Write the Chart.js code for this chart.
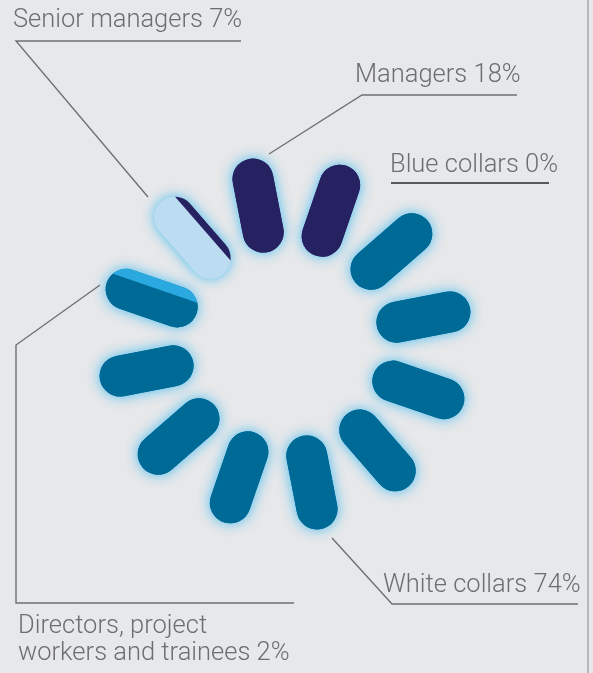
<!DOCTYPE html>
<html>
<head>
<meta charset="utf-8">
<script src="https://cdn.jsdelivr.net/npm/chart.js@4/dist/chart.umd.min.js"></script>
<style>
  html, body { margin: 0; padding: 0; background: #e7e8ea; }
  #wrap { position: relative; width: 593px; height: 673px; overflow: hidden; }
  #chart, #notes { position: absolute; left: 0; top: 0; }
  #notes text { font-family: Roboto, "Open Sans", sans-serif; font-weight: 300; font-size: 25.5px; fill: #6d6e71; }
</style>
</head>
<body>
<div id="wrap">
  <canvas id="chart" width="593" height="673"></canvas>
  <svg id="notes" width="593" height="673">
    <g fill="none" stroke="#6f7073" stroke-width="1.4">
      <line x1="588" y1="0" x2="588" y2="673" stroke="#a4a5a8"/>
      <polyline points="148,197 16,41 241,41"/>
      <polyline points="269,154 362,95 517,95"/>
      <line x1="391" y1="183" x2="549" y2="183" stroke="#58595b" stroke-width="2"/>
      <polyline points="332,538 392,604 578,604"/>
      <polyline points="100,285 16,345 16,603 294,603"/>
    </g>
    <text x="13" y="27">Senior managers 7%</text>
    <text x="355" y="82">Managers 18%</text>
    <text x="390" y="172">Blue collars 0%</text>
    <text x="383" y="592">White collars 74%</text>
    <text x="18" y="633">Directors, project</text>
    <text x="18" y="660">workers and trainees 2%</text>
  </svg>
</div>
<script>
// staff structure, % of headcount
const categories = ['Managers', 'Senior managers', 'Directors, project workers and trainees', 'White collars', 'Blue collars'];
const shares = [18, 7, 2, 74, 0];
const colours = ['#262262', '#bcdcf1', '#29a9e0', '#006a96', '#8d8e91'];

// ring of 12 pills, filled anticlockwise starting at the pill right of 12 o'clock
const SLOTS = 12;
const START_DEG = 19;
const R_IN = 114, R_OUT = 168, PILL_W = 41;

function slotAxis(k) {
  const a = (START_DEG - k * 360 / SLOTS) * Math.PI / 180;
  // r = outward direction, t = clockwise direction (y axis points up)
  return { r: [Math.sin(a), Math.cos(a)], t: [Math.cos(a), -Math.sin(a)] };
}

// split the cumulative shares into stripes across the pills
const stripes = [];
let pos = 0;
shares.forEach((s, i) => {
  const a = pos, b = Math.min(pos + s / 100 * SLOTS, SLOTS);
  for (let k = Math.floor(a); k < b; k++) {
    const f0 = Math.max(a, k) - k, f1 = Math.min(b, k + 1) - k;
    if (f1 > f0) stripes.push({ slot: k, cat: i, f0: f0, f1: f1 });
  }
  pos = b;
});

const pills = [];
for (let k = 0; k < SLOTS; k++) {
  const r = slotAxis(k).r;
  const main = stripes.filter(s => s.slot === k).sort((p, q) => (q.f1 - q.f0) - (p.f1 - p.f0))[0];
  pills.push({
    data: [{ x: r[0] * R_IN, y: r[1] * R_IN }, { x: r[0] * R_OUT, y: r[1] * R_OUT }],
    borderColor: main ? colours[main.cat] : '#d5d6d8',
    borderWidth: PILL_W,
    borderCapStyle: 'round',
    glow: true,
    order: 2
  });
}

const stripeSets = stripes.map(s => {
  const ax = slotAxis(s.slot);
  const off = (0.5 - (s.f0 + s.f1) / 2) * PILL_W;
  const r0 = R_IN - PILL_W, r1 = R_OUT + PILL_W;
  return {
    label: categories[s.cat],
    data: [
      { x: ax.r[0] * r0 + ax.t[0] * off, y: ax.r[1] * r0 + ax.t[1] * off },
      { x: ax.r[0] * r1 + ax.t[0] * off, y: ax.r[1] * r1 + ax.t[1] * off }
    ],
    borderColor: colours[s.cat],
    borderWidth: (s.f1 - s.f0) * PILL_W + 0.6,
    borderCapStyle: 'butt',
    clipSlot: s.slot,
    order: 1
  };
});

// glow under each pill, stripes clipped to the pill outline
const pillPlugin = {
  id: 'pills',
  beforeDatasetDraw(chart, args) {
    const ds = chart.data.datasets[args.index];
    const ctx = chart.ctx;
    ctx.save();
    if (ds.glow) {
      ctx.shadowColor = 'rgba(60,185,240,0.95)';
      ctx.shadowBlur = 13;
    }
    if (ds.clipSlot !== undefined) {
      const xs = chart.scales.x, ys = chart.scales.y;
      const r = slotAxis(ds.clipSlot).r;
      const p1 = [xs.getPixelForValue(r[0] * R_IN), ys.getPixelForValue(r[1] * R_IN)];
      const p2 = [xs.getPixelForValue(r[0] * R_OUT), ys.getPixelForValue(r[1] * R_OUT)];
      const ang = Math.atan2(p2[1] - p1[1], p2[0] - p1[0]);
      const h = PILL_W / 2;
      ctx.beginPath();
      ctx.arc(p2[0], p2[1], h, ang - Math.PI / 2, ang + Math.PI / 2);
      ctx.arc(p1[0], p1[1], h, ang + Math.PI / 2, ang + 3 * Math.PI / 2);
      ctx.closePath();
      ctx.clip();
    }
  },
  afterDatasetDraw(chart) {
    chart.ctx.restore();
  }
};

new Chart(document.getElementById('chart'), {
  type: 'scatter',
  data: { datasets: stripeSets.concat(pills) },
  options: {
    responsive: false,
    animation: false,
    layout: { padding: 0 },
    showLine: true,
    elements: { point: { radius: 0 }, line: { tension: 0 } },
    plugins: { legend: { display: false }, tooltip: { enabled: false } },
    scales: {
      x: { type: 'linear', min: -285, max: 308, display: false },
      y: { type: 'linear', min: -329, max: 344, display: false }
    }
  },
  plugins: [pillPlugin]
});
</script>
</body>
</html>
